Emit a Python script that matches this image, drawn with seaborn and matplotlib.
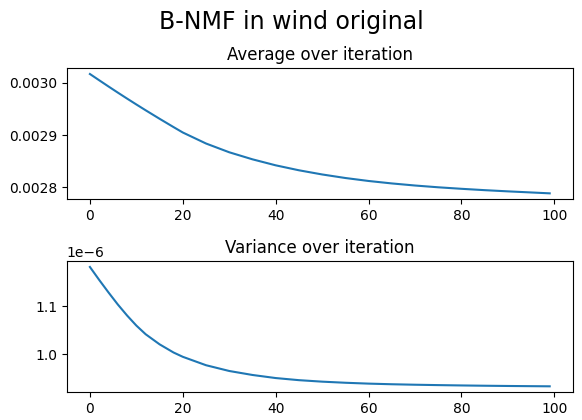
import numpy as np
import pandas as pd
import matplotlib
matplotlib.use("Agg")
import matplotlib.pyplot as plt
import seaborn as sns

# iterations sampled from the curves (denser at the start where they bend most)
iteration = [0, 2, 4, 6, 8, 10, 12, 15, 18, 20, 25, 30, 35, 40, 45, 50,
             55, 60, 65, 70, 75, 80, 85, 90, 95, 99]

# average over iteration (in units of 1e-3)
average = [3.017, 3.005, 2.9931, 2.9814, 2.9699, 2.9586, 2.9475, 2.9312,
           2.9153, 2.9049, 2.8838, 2.867, 2.8535, 2.842, 2.8325, 2.8245,
           2.8177, 2.812, 2.8073, 2.8033, 2.7999, 2.797, 2.7944, 2.7921,
           2.790, 2.7883]

# variance over iteration (in units of 1e-6)
variance = [1.182, 1.155, 1.129, 1.104, 1.081, 1.060, 1.042, 1.021, 1.004,
            0.995, 0.9775, 0.9655, 0.9572, 0.9508, 0.9464, 0.9433, 0.941,
            0.9392, 0.9379, 0.9369, 0.9361, 0.9354, 0.9348, 0.9343, 0.9339,
            0.9336]

df = pd.DataFrame({
    "iteration": iteration,
    "average": np.array(average) * 1e-3,
    "variance": np.array(variance) * 1e-6,
})

fig, axes = plt.subplots(2, 1, figsize=(5.82, 4.2), dpi=100)
fig.subplots_adjust(left=0.115, right=0.984, top=0.838, bottom=0.066, hspace=0.47)

sns.lineplot(data=df, x="iteration", y="average", ax=axes[0], color="#1f77b4")
axes[0].set_title("Average over iteration", fontsize=12)
axes[0].set_yticks([0.0028, 0.0029, 0.0030])

sns.lineplot(data=df, x="iteration", y="variance", ax=axes[1], color="#1f77b4")
axes[1].set_title("Variance over iteration", fontsize=12)
axes[1].set_yticks([1.0e-6, 1.1e-6])

for ax in axes:
    ax.set_xlabel("")
    ax.set_ylabel("")
    ax.set_xticks([0, 20, 40, 60, 80, 100])

fig.suptitle("B-NMF in wind original", fontsize=17, y=0.975)

fig.savefig("out.png", dpi=100)
